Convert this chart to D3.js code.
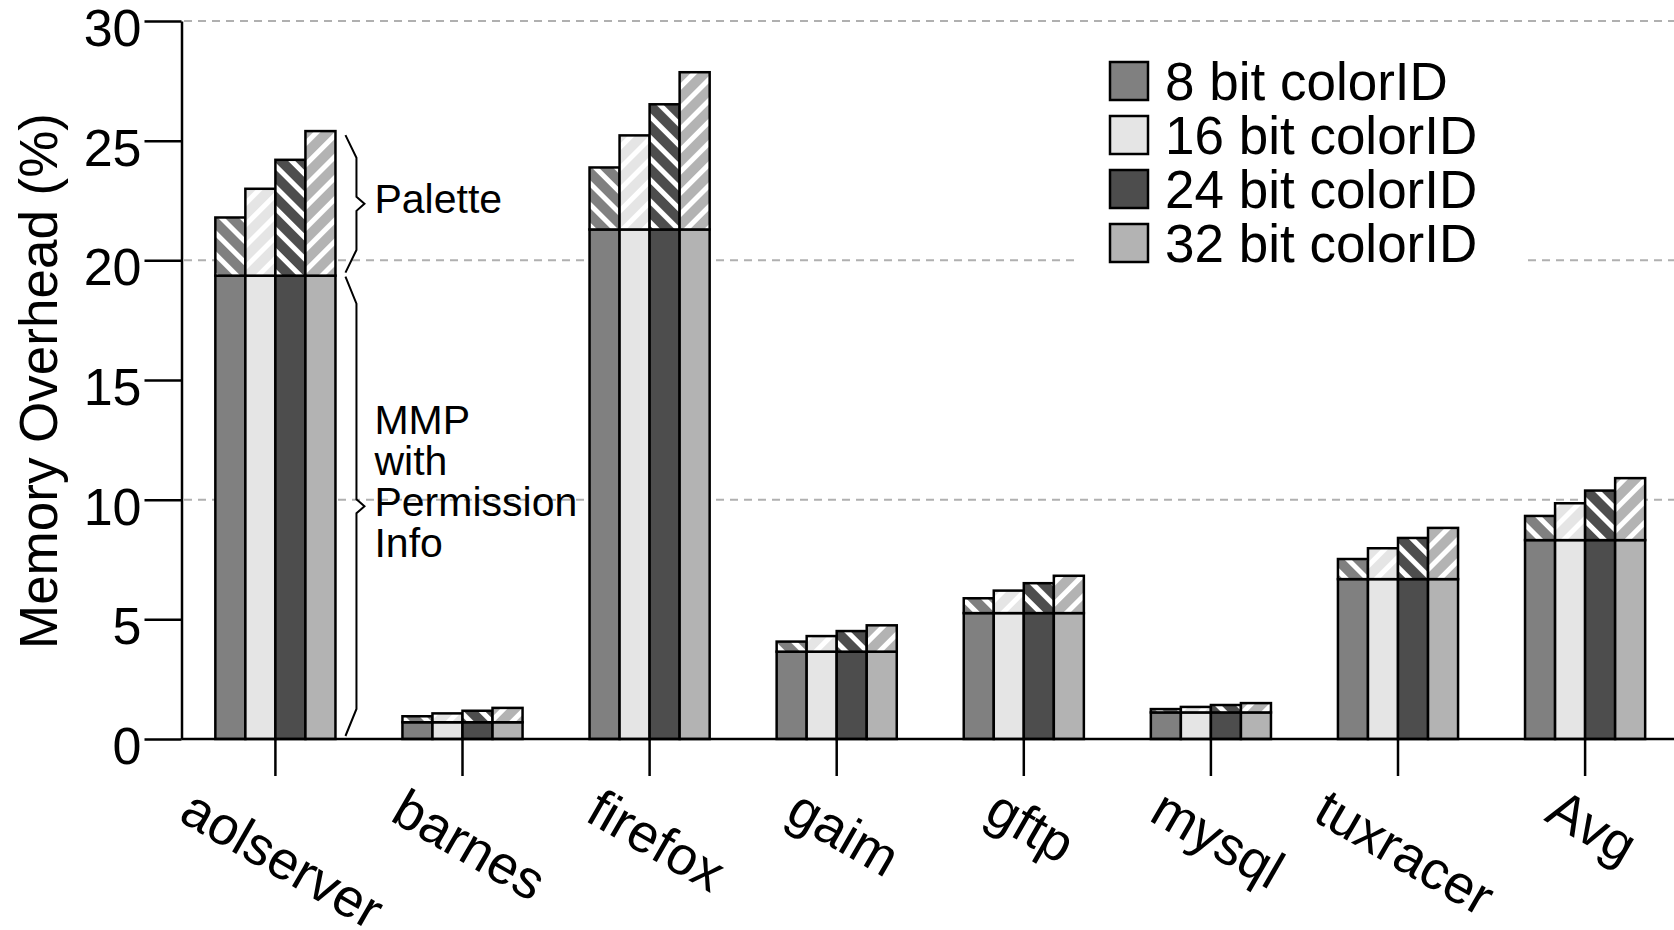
<!DOCTYPE html>
<html lang="en">
<head>
<meta charset="UTF-8">
<title>Memory Overhead</title>
<script src="https://d3js.org/d3.v7.min.js"></script>
<style>
  body { margin: 0; background: #fff; }
  text { font-family: "Liberation Sans", Arial, Helvetica, sans-serif; fill: #000; }
</style>
</head>
<body>
<script>
const categories = ["aolserver", "barnes", "firefox", "gaim", "gftp", "mysql", "tuxracer", "Avg"];
const series = ["8 bit colorID", "16 bit colorID", "24 bit colorID", "32 bit colorID"];
// MMP with permission info (same for every colorID width)
const mmp = [19.36, 0.70, 21.29, 3.65, 5.26, 1.11, 6.68, 8.31];
// total overhead = MMP + palette
const total8  = [21.79, 0.95, 23.88, 4.07, 5.88, 1.25, 7.52, 9.32];
const total16 = [22.99, 1.07, 25.22, 4.30, 6.20, 1.34, 7.97, 9.85];
const total24 = [24.20, 1.18, 26.52, 4.51, 6.51, 1.42, 8.40, 10.38];
const total32 = [25.40, 1.30, 27.86, 4.75, 6.82, 1.50, 8.82, 10.90];
const totals = [total8, total16, total24, total32];
const yTicks = [0, 5, 10, 15, 20, 25, 30];
const gridTicks = [10, 20, 30];

const colors = ["#808080", "#e5e5e5", "#4d4d4d", "#b3b3b3"];
const hatchAngle = [-45, 45, -45, 45];

const W = 1674, H = 930;
const svg = d3.select("body").append("svg")
    .attr("width", W).attr("height", H);

const y = d3.scaleLinear().domain([0, 30]).range([739, 21]);
const x0 = d3.scaleBand().domain(categories).range([181.85, 1678.65])
    .paddingInner(0.358).paddingOuter(0.179);
const x1 = d3.scaleBand().domain(d3.range(4)).range([0, x0.bandwidth()]);

// hatch patterns for the palette part
const defs = svg.append("defs");
colors.forEach(function(c, i) {
    const p = defs.append("pattern")
        .attr("id", "hatch" + i)
        .attr("patternUnits", "userSpaceOnUse")
        .attr("width", 15).attr("height", 15)
        .attr("patternTransform", "rotate(" + hatchAngle[i] + ")");
    p.append("rect").attr("width", 15).attr("height", 15).attr("fill", c);
    p.append("rect").attr("x", 0).attr("width", 5).attr("height", 15).attr("fill", "#fff");
});

// dashed gridlines
svg.selectAll(".grid")
    .data(gridTicks)
    .enter()
    .append("line")
    .attr("class", "grid")
    .attr("x1", 184).attr("x2", W)
    .attr("y1", d => y(d)).attr("y2", d => y(d))
    .attr("stroke", "#b0b0b0")
    .attr("stroke-width", 2)
    .attr("stroke-dasharray", "8,6");

// bars
const rows = [];
categories.forEach(function(c, ci) {
    totals.forEach(function(t, si) {
        rows.push({cat: c, s: si, base: mmp[ci], top: t[ci]});
    });
});

const g = svg.append("g");
g.selectAll(".base")
    .data(rows)
    .enter()
    .append("rect")
    .attr("class", "base")
    .attr("x", d => x0(d.cat) + x1(d.s))
    .attr("width", x1.bandwidth())
    .attr("y", d => y(d.base))
    .attr("height", d => y(0) - y(d.base))
    .attr("fill", d => colors[d.s])
    .attr("stroke", "#000")
    .attr("stroke-width", 2.5);

g.selectAll(".pal")
    .data(rows)
    .enter()
    .append("rect")
    .attr("class", "pal")
    .attr("x", d => x0(d.cat) + x1(d.s))
    .attr("width", x1.bandwidth())
    .attr("y", d => y(d.top))
    .attr("height", d => y(d.base) - y(d.top))
    .attr("fill", d => "url(#hatch" + d.s + ")")
    .attr("stroke", "#000")
    .attr("stroke-width", 2.5);

// y axis
const yAxis = svg.append("g")
    .attr("transform", "translate(181.5,0)")
    .call(d3.axisLeft(y).tickValues(yTicks).tickSize(37).tickPadding(3).tickSizeOuter(0));
yAxis.selectAll("line, path").attr("stroke", "#000").attr("stroke-width", 2.5);
yAxis.selectAll("text")
    .attr("font-size", 52)
    .attr("dy", "0.47em")
    .attr("font-family", "Liberation Sans, Arial, sans-serif");

// x axis
const xAxis = svg.append("g")
    .attr("transform", "translate(0," + y(0) + ")")
    .call(d3.axisBottom(x0).tickSize(37).tickSizeOuter(0).tickFormat(""));
xAxis.select("path").attr("d", "M181.5,0H" + W);
xAxis.selectAll("line, path").attr("stroke", "#000").attr("stroke-width", 2.5);

svg.selectAll(".xlab")
    .data(categories)
    .enter()
    .append("text")
    .attr("class", "xlab")
    .attr("font-size", 54)
    .attr("text-anchor", "middle")
    .attr("dy", "0.27em")
    .text(d => d)
    .attr("transform", function(d) {
        const w = this.getComputedTextLength();
        const cx = x0(d) + x0.bandwidth() / 2 + 5;
        const cy = y(0) + 68 + w / 4;
        return "translate(" + cx + "," + cy + ") rotate(30)";
    });

// y title
svg.append("text")
    .attr("transform", "translate(57," + 381 + ") rotate(-90)")
    .attr("text-anchor", "middle")
    .attr("font-size", 53)
    .text("Memory Overhead (%)");

// legend
const legend = svg.append("g");
legend.append("rect")
    .attr("x", 1078).attr("y", 48)
    .attr("width", 449).attr("height", 224)
    .attr("fill", "#fff");
const li = legend.selectAll(".li")
    .data(series)
    .enter()
    .append("g")
    .attr("transform", (d, i) => "translate(1110," + (81 + i * 54) + ")");
li.append("rect")
    .attr("x", 0).attr("y", -19)
    .attr("width", 38).attr("height", 38)
    .attr("fill", (d, i) => colors[i])
    .attr("stroke", "#000")
    .attr("stroke-width", 2.5);
li.append("text")
    .attr("x", 55).attr("dy", "0.35em")
    .attr("font-size", 53)
    .text(d => d);

// braces next to aolserver
const bx = x0("aolserver") + x0.bandwidth();
function brace(top, bottom) {
    const h = bottom - top;
    const d = Math.min(27, h * 0.165);
    const mid = (top + bottom) / 2;
    const l = bx + 10, m = bx + 21, t = bx + 29;
    return "M" + l + "," + top + "L" + m + "," + (top + d) + "L" + m + "," + (mid - 7) +
        "L" + t + "," + mid + "L" + m + "," + (mid + 7) + "L" + m + "," + (bottom - d) +
        "L" + l + "," + bottom;
}
svg.append("path")
    .attr("d", brace(y(total32[0]) + 4, y(mmp[0]) - 3))
    .attr("fill", "none").attr("stroke", "#000").attr("stroke-width", 2);
svg.append("path")
    .attr("d", brace(y(mmp[0]) + 1, y(0) - 3))
    .attr("fill", "none").attr("stroke", "#000").attr("stroke-width", 2);

svg.append("text")
    .attr("x", bx + 39).attr("y", 213)
    .attr("font-size", 41)
    .text("Palette");
["MMP", "with", "Permission", "Info"].forEach(function(s, i) {
    svg.append("text")
        .attr("x", bx + 39).attr("y", 434 + i * 41)
        .attr("font-size", 41)
        .text(s);
});
</script>
</body>
</html>
